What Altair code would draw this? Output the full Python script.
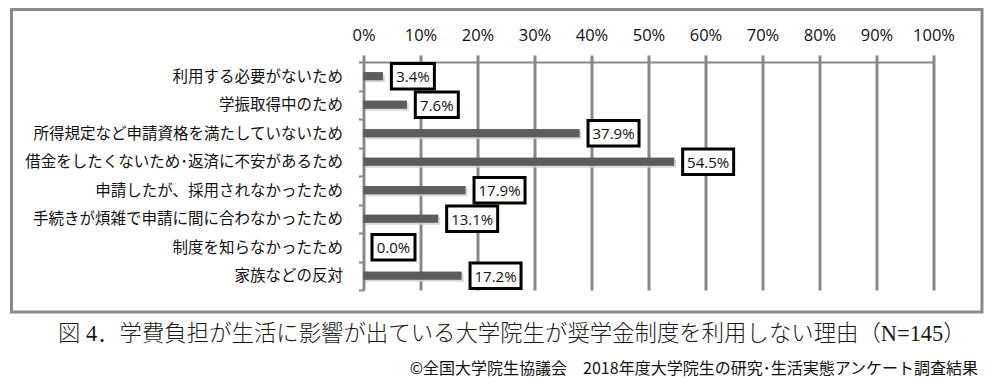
import altair as alt
import pandas as pd

categories = [
    "利用する必要がないため",
    "学振取得中のため",
    "所得規定など申請資格を満たしていないため",
    "借金をしたくないため･返済に不安があるため",
    "申請したが、採用されなかったため",
    "手続きが煩雑で申請に間に合わなかったため",
    "制度を知らなかったため",
    "家族などの反対",
]
values = [3.4, 7.6, 37.9, 54.5, 17.9, 13.1, 0.0, 17.2]
tick_values = [0, 10, 20, 30, 40, 50, 60, 70, 80, 90, 100]
title_text = "図 4．学費負担が生活に影響が出ている大学院生が奨学金制度を利用しない理由（N=145）"
footer_text = "©全国大学院生協議会　2018年度大学院生の研究･生活実態アンケート調査結果"

df = pd.DataFrame({"reason": categories, "pct": values})

GRID = "#898989"
x_scale = alt.Scale(domain=[0, 100], nice=False, zero=True)
y_scale = alt.Scale(domain=categories, paddingInner=0, paddingOuter=0)

x_axis = alt.Axis(
    orient="top", values=tick_values, labelExpr="datum.value + '%'", title=None,
    grid=True, gridColor=GRID, gridWidth=3, gridOpacity=1,
    ticks=True, tickColor=GRID, tickWidth=3, tickSize=7,
    domain=True, domainColor=GRID, domainWidth=2,
    labelFont="Open Sans", labelFontSize=16.5, labelColor="#111", labelPadding=12,
    labelOverlap=False, labelFlush=False,
)
y_axis = alt.Axis(
    title=None, grid=False, tickBand="extent", tickSize=5, tickColor=GRID, tickWidth=2,
    domain=True, domainColor=GRID, domainWidth=2,
    labelFont="Noto Sans CJK JP", labelFontSize=15.5, labelColor="#111",
    labelPadding=16, labelLimit=0, labelOverlap=False,
)

base = alt.Chart(df)
X = alt.X("pct:Q", scale=x_scale, axis=x_axis)
Y = alt.Y("reason:N", scale=y_scale, sort=categories, axis=y_axis)

bars = base.mark_bar(color="#5c5c5c", size=8).encode(x=X, y=Y)
shadow = base.mark_bar(color="#cfcfcf", size=8, yOffset=2, xOffset=2, x2Offset=2, opacity=0.8).encode(x=X, y=Y)

lab = base.transform_calculate(label="format(datum.pct, '.1f') + '%'")
short = lab.transform_filter("length(datum.label) == 4")
long_ = lab.transform_filter("length(datum.label) == 5")

box_s = short.mark_bar(fill="white", stroke="black", strokeWidth=3, size=25.5,
                       xOffset=8.5, x2Offset=51.5).encode(x=X, x2=alt.X2("pct:Q"), y=Y)
box_l = long_.mark_bar(fill="white", stroke="black", strokeWidth=3, size=25.5,
                       xOffset=8.5, x2Offset=59.5).encode(x=X, x2=alt.X2("pct:Q"), y=Y)
txt_s = short.mark_text(font="Open Sans", fontSize=15, color="#111", align="center",
                        baseline="middle", dx=30, dy=1).encode(x=X, y=Y, text="label:N")
txt_l = long_.mark_text(font="Open Sans", fontSize=15, color="#111", align="center",
                        baseline="middle", dx=34, dy=1).encode(x=X, y=Y, text="label:N")

frame = alt.Chart(pd.DataFrame({"k": [0]})).mark_rect(
    fillOpacity=0, stroke="#8a8a8a", strokeWidth=3
).encode(x=alt.value(-352), x2=alt.value(618.5), y=alt.value(-52.5), y2=alt.value(250))

title = alt.Chart(pd.DataFrame({"t": [title_text]})).mark_text(
    font="Liberation Serif, Noto Sans CJK JP", fontSize=22.4, fontWeight=300, color="#1a1a1a",
    align="left", baseline="middle"
).encode(x=alt.value(-305.5), y=alt.value(272), text="t:N")

footer = alt.Chart(pd.DataFrame({"t": [footer_text]})).mark_text(
    font="Noto Sans CJK JP", fontSize=16, color="#111",
    align="right", baseline="middle"
).encode(x=alt.value(614.5), y=alt.value(307), text="t:N")

chart = alt.layer(bars, shadow, bars, box_s, box_l, txt_s, txt_l, frame, title, footer).properties(
    width=570, height=228,
    padding={"left": 355.5, "top": 54, "right": 51, "bottom": 90},
    autosize=alt.AutoSizeParams(type="none"),
    background="white",
).configure_view(stroke=None)

chart.save("out.html", embed_options={"renderer": "svg", "actions": False})
